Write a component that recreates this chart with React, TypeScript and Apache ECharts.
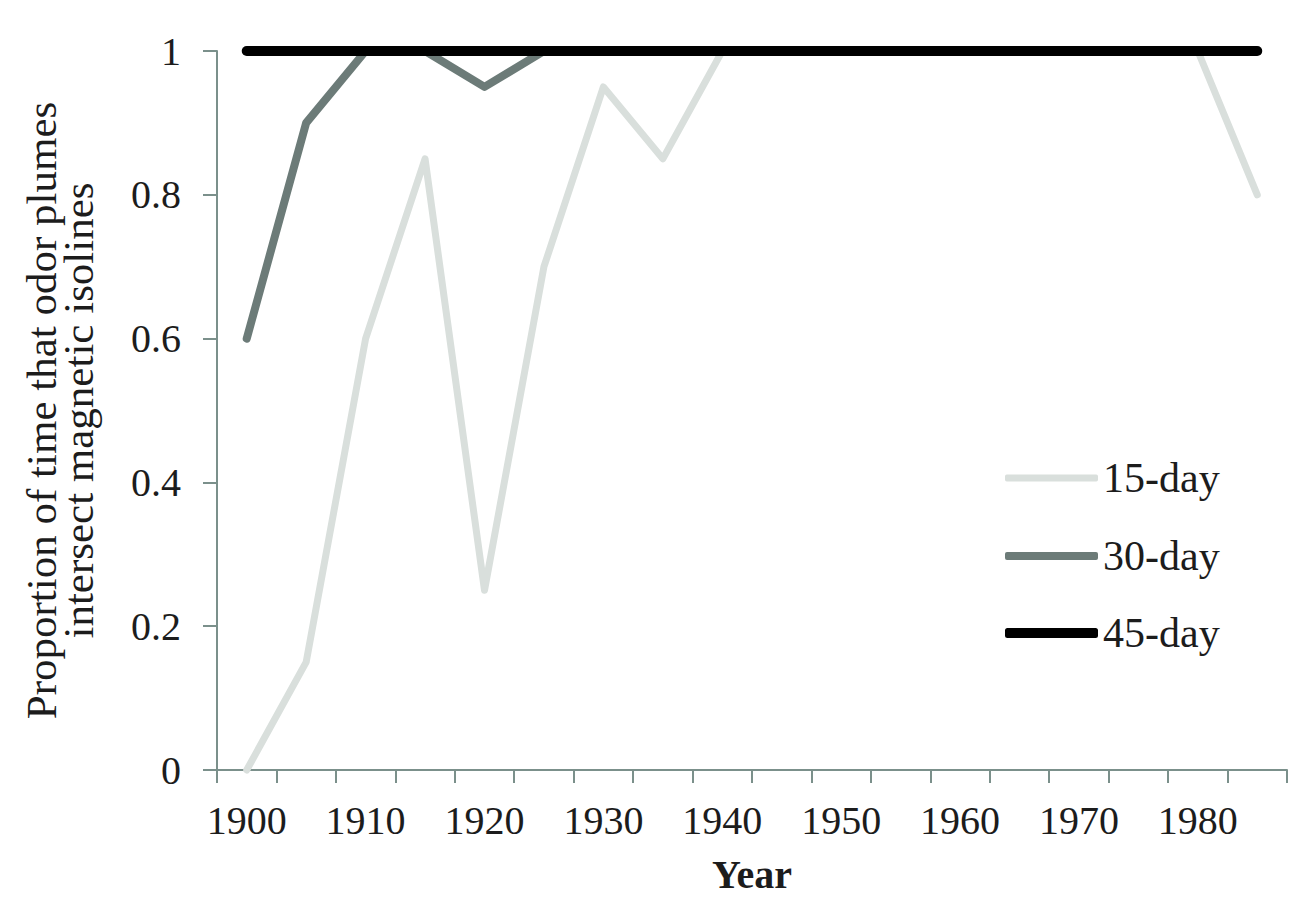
import React, { useEffect, useRef } from "react";
import * as echarts from "echarts";

const years = ["1900","1905","1910","1915","1920","1925","1930","1935","1940","1945","1950","1955","1960","1965","1970","1975","1980","1985"];
const day15 = [0, 0.15, 0.6, 0.85, 0.25, 0.7, 0.95, 0.85, 1, 1, 1, 1, 1, 1, 1, 1, 1, 0.8];
const day30 = [0.6, 0.9, 1, 1, 0.95, 1, 1, 1, 1, 1, 1, 1, 1, 1, 1, 1, 1, 1];
const day45 = [1, 1, 1, 1, 1, 1, 1, 1, 1, 1, 1, 1, 1, 1, 1, 1, 1, 1];
const seriesNames = ["15-day", "30-day", "45-day"];

const FONT = "'Liberation Serif', 'Times New Roman', serif";
const AXIS = "#7b908b";
const TEXT = "#1c1c1c";
const COLORS = ["#d9dfdc", "#6c7b78", "#000000"];
const WIDTHS = [7, 8, 10];
const LEGEND_CENTERS = [478, 556, 633];

export default function App() {
  const ref = useRef<HTMLDivElement>(null);
  useEffect(() => {
    if (!ref.current) return;
    const chart = echarts.init(ref.current, undefined, { renderer: "svg" });
    const datasets = [day15, day30, day45];
    chart.setOption({
      animation: false,
      backgroundColor: "#ffffff",
      grid: { left: 217, right: 13, top: 51, bottom: 136, containLabel: false },
      legend: seriesNames.map((n, i) => ({
        orient: "vertical",
        left: 1005,
        top: LEGEND_CENTERS[i] - 21,
        padding: 0,
        itemWidth: 93,
        itemHeight: WIDTHS[i],
        icon: "roundRect",
        textStyle: { fontFamily: FONT, fontSize: 42, color: TEXT, lineHeight: 42 },
        data: [n],
      })),
      xAxis: {
        type: "category",
        data: years,
        boundaryGap: true,
        name: "Year",
        nameLocation: "middle",
        nameGap: 84,
        nameTextStyle: { fontFamily: FONT, fontSize: 40, fontWeight: "bold", color: TEXT },
        axisLine: { lineStyle: { color: AXIS, width: 2 } },
        axisTick: { show: true, interval: 0, length: 13, lineStyle: { color: AXIS, width: 2 } },
        axisLabel: { interval: 1, margin: 30, fontFamily: FONT, fontSize: 40, color: TEXT },
        splitLine: { show: false },
      },
      yAxis: {
        type: "value",
        min: 0,
        max: 1,
        interval: 0.2,
        name: "Proportion of time that odor plumes\nintersect magnetic isolines",
        nameLocation: "middle",
        nameRotate: 90,
        nameGap: 120,
        nameTextStyle: { fontFamily: FONT, fontSize: 43, color: TEXT, lineHeight: 37 },
        axisLine: { show: true, lineStyle: { color: AXIS, width: 2 } },
        axisTick: { show: true, length: 14, lineStyle: { color: AXIS, width: 2 } },
        axisLabel: { margin: 36, fontFamily: FONT, fontSize: 40, color: TEXT },
        splitLine: { show: false },
      },
      series: seriesNames.map((n, i) => ({
        name: n,
        type: "line",
        data: datasets[i],
        symbol: "none",
        clip: false,
        lineStyle: { color: COLORS[i], width: WIDTHS[i], cap: "round", join: "round" },
        itemStyle: { color: COLORS[i] },
        z: 2 + i,
      })),
    });
    return () => chart.dispose();
  }, []);
  return (
    <div
      ref={ref}
      style={{ position: "fixed", left: 0, top: 0, width: 1300, height: 906, background: "#fff" }}
    />
  );
}
